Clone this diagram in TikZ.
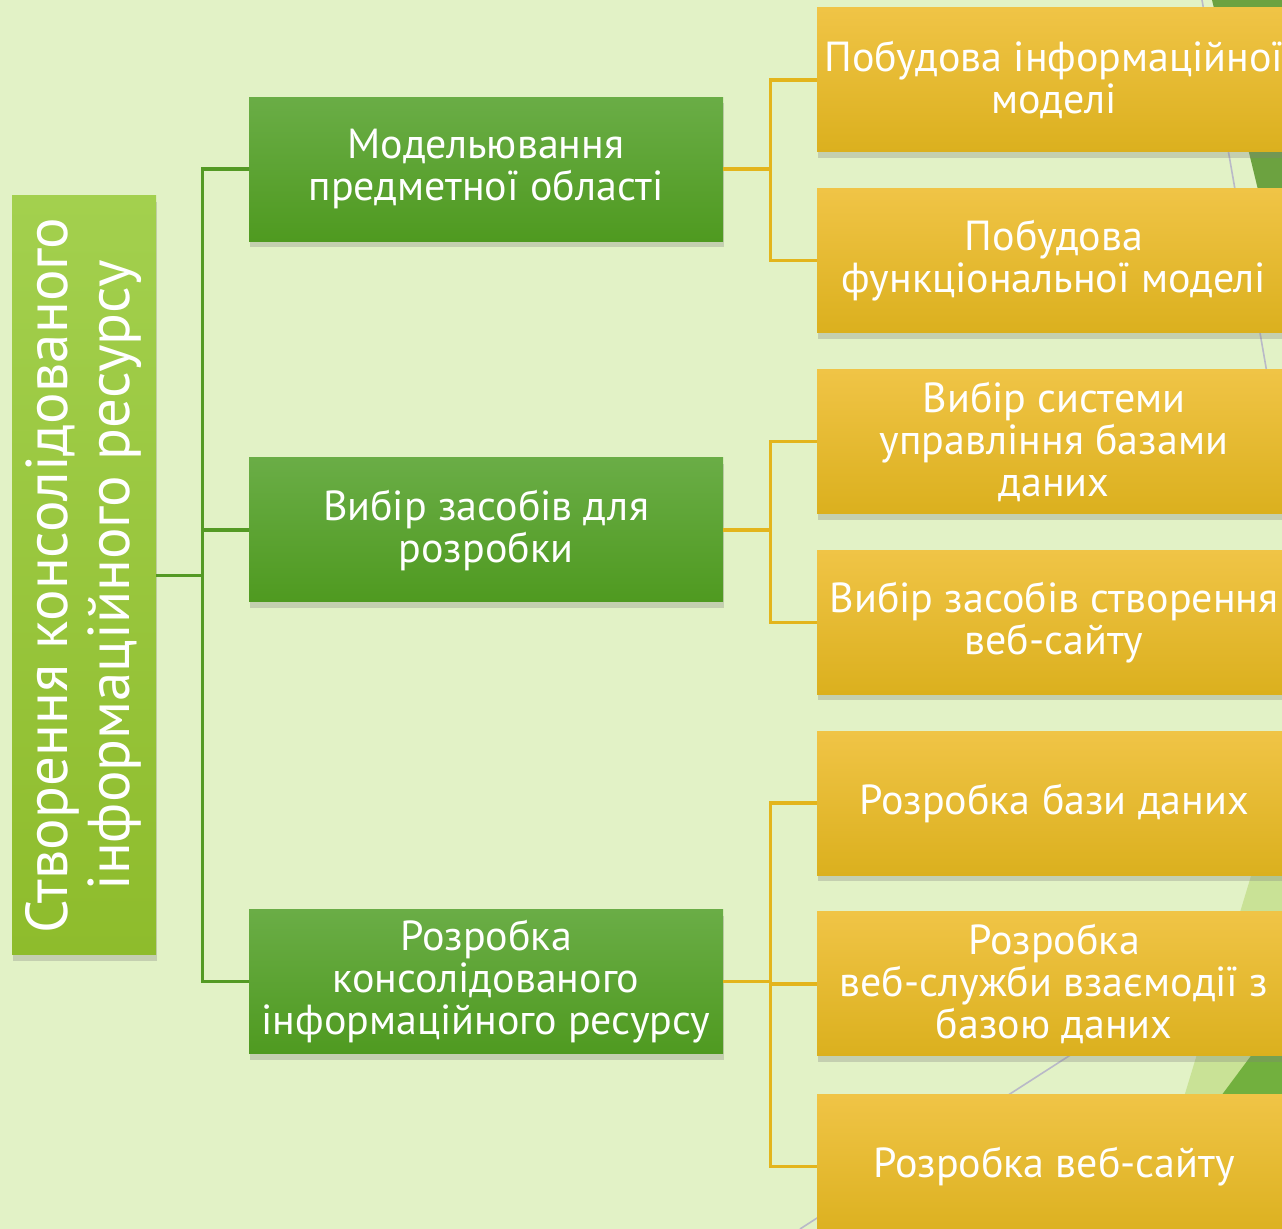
\documentclass[tikz,border=0pt]{standalone}
\usepackage{fontspec}
\setmainfont{PT Sans}
\usepackage{xcolor}
\usepackage{tikz}
\usetikzlibrary{positioning,calc,shadows}

\definecolor{slidebg}{RGB}{226,242,198}
\definecolor{roottop}{RGB}{163,208,78}
\definecolor{rootbot}{RGB}{142,188,44}
\definecolor{midtop}{RGB}{106,173,70}
\definecolor{midbot}{RGB}{79,154,32}
\definecolor{leaftop}{RGB}{240,196,70}
\definecolor{leafbot}{RGB}{219,176,30}
\definecolor{gline}{RGB}{84,154,36}
\definecolor{yline}{RGB}{227,181,28}
\definecolor{decodark}{RGB}{108,162,64}
\definecolor{decogreen}{RGB}{114,176,62}
\definecolor{decolight}{RGB}{201,226,150}
\definecolor{decogray}{RGB}{185,185,200}

\begin{document}
\begin{tikzpicture}[x=0.5pt, y=-0.5pt,
    box/.style={inner sep=0pt, align=center, text=white, font=\fontsize{21}{21}\selectfont,
      minimum width=237pt, minimum height=72pt,
      drop shadow={shadow xshift=0.5pt, shadow yshift=-3pt, opacity=0.3}},
    rootbox/.style={box, rotate=90, minimum width=379.5pt, minimum height=72pt,
      top color=roottop, bottom color=rootbot, font=\fontsize{29.5}{31}\selectfont},
    midbox/.style={box, top color=midtop, bottom color=midbot},
    leafbox/.style={box, top color=leaftop, bottom color=leafbot},
    gconn/.style={gline, line width=1.7pt},
    yconn/.style={yline, line width=1.7pt}]
    \fill[slidebg] (0,0) rectangle (1282,1229);
    \useasboundingbox (0,0) rectangle (1282,1229);
    \clip (0,0) rectangle (1282,1229);

    % slide decoration on the right
    \fill[decodark] (1212,0) -- (1300,0) -- (1300,363) -- cycle;
    \draw[decogray, line width=0.8pt] (1202,0) -- (1290,505);
    \fill[decolight] (1268,820) -- (1300,820) -- (1300,1229) -- (1144,1229) -- cycle;
    \fill[decogreen] (1300,990) -- (1300,1229) -- (1122,1229) -- cycle;
    \draw[decogray, line width=0.8pt] (1100,1036) -- (800,1229);

    \node[rootbox] (root) at (84,575.5) {Створення консолідованого\\інформаційного ресурсу};

    \node[midbox] (m2) at (486,530) {Вибір засобів для\\розробки};
    \node[midbox, above=108pt of m2] (m1) {Модельювання\\предметної області};
    \node[midbox, below=153.5pt of m2] (m3) {Розробка\\консолідованого\\інформаційного ресурсу};

    \node[leafbox] (p1) at (1054,80) {Побудова інформаційної\\моделі};
    \node[leafbox, below=18pt of p1] (p2) {Побудова\\функціональної моделі};
    \node[leafbox, below=18pt of p2] (s1) {Вибір системи\\управління базами\\даних};
    \node[leafbox, below=18pt of s1] (s2) {Вибір засобів створення\\веб-сайту};
    \node[leafbox, below=18pt of s2] (r1) {Розробка бази даних};
    \node[leafbox, below=18pt of r1] (r2) {Розробка\\веб-служби взаємодії з\\базою даних};
    \node[leafbox, below=19pt of r2] (r3) {Розробка веб-сайту};

    % tree lines
    \foreach \n in {m1,m2,m3}
        \draw[gconn] (root.south) -- ++(46,0) |- (\n.west);
    \foreach \m/\l in {m1/p1, m1/p2, m2/s1, m2/s2, m3/r1, m3/r2, m3/r3}
        \draw[yconn] (\m.east) -- ++(47,0) |- (\l.west);
\end{tikzpicture}
\end{document}
